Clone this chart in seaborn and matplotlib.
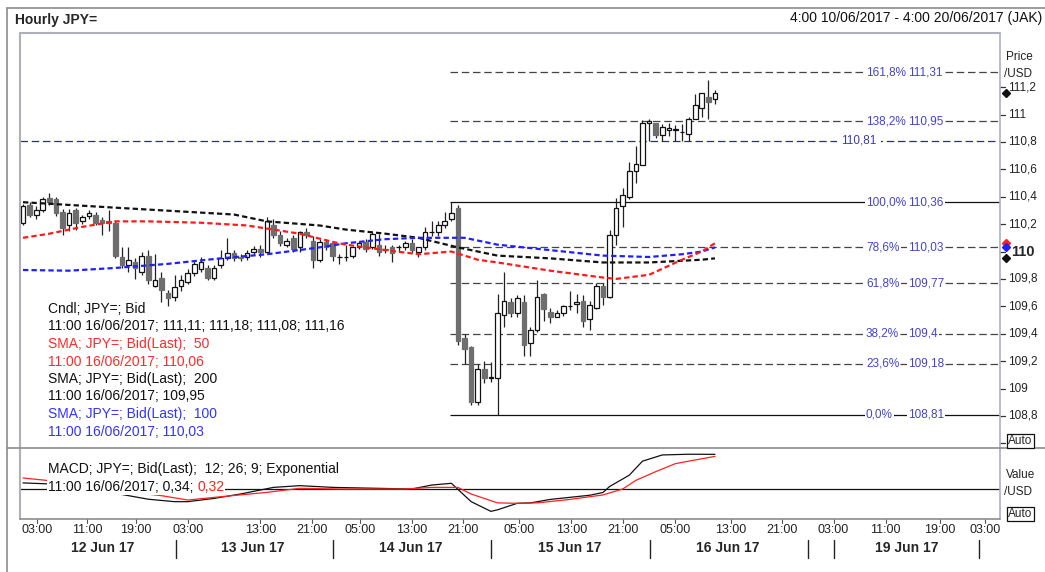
import matplotlib
matplotlib.use("Agg")
import numpy as np
import matplotlib.pyplot as plt
import matplotlib.transforms as mtransforms
from matplotlib.lines import Line2D
import seaborn as sns

# ---------------------------------------------------------------------------
# Data (one hourly candle per slot, 12 Jun -> 16 Jun 11:00)
# ---------------------------------------------------------------------------
opens = [110.21, 110.34, 110.27, 110.30, 110.39, 110.38, 110.29, 110.19, 110.30, 110.22,
         110.26, 110.27, 110.23, 110.22, 110.21, 109.96, 109.90, 109.92, 109.85, 109.97,
         109.75, 109.81, 109.70, 109.67, 109.75, 109.78, 109.84, 109.87, 109.88, 109.81,
         109.90, 109.95, 109.99, 109.96, 109.96, 110.00, 110.02, 110.00, 110.19, 110.12,
         110.05, 110.10, 110.03, 110.14, 110.08, 109.94, 110.07, 110.06, 109.96, 109.96,
         109.97, 110.03, 110.07, 110.03, 110.05, 110.02, 110.03, 110.03, 110.03, 110.06,
         110.00, 110.03, 110.14, 110.14, 110.19, 110.24, 110.32, 109.37, 109.30, 108.90,
         109.14, 109.08, 109.08, 109.54, 109.63, 109.55, 109.63, 109.33, 109.43, 109.69,
         109.56, 109.52, 109.55, 109.60, 109.62, 109.64, 109.51, 109.59, 109.75, 109.67,
         110.12, 110.33, 110.40, 110.59, 110.63, 110.94, 110.94, 110.85, 110.89, 110.89,
         110.87, 110.86, 110.97, 111.05, 111.13, 111.11]
closes = [110.33, 110.27, 110.30, 110.38, 110.36, 110.28, 110.17, 110.28, 110.21, 110.25,
          110.28, 110.21, 110.21, 110.21, 109.97, 109.90, 109.94, 109.88, 109.97, 109.79,
          109.79, 109.72, 109.66, 109.74, 109.79, 109.84, 109.91, 109.92, 109.81, 109.88,
          109.95, 109.99, 109.95, 109.95, 109.99, 110.02, 110.00, 110.22, 110.12, 110.06,
          110.08, 110.02, 110.14, 110.12, 109.94, 110.07, 110.03, 109.97, 109.96, 109.96,
          110.03, 110.06, 110.02, 110.13, 110.00, 110.01, 109.99, 110.03, 110.06, 110.01,
          110.03, 110.14, 110.14, 110.19, 110.22, 110.28, 109.35, 109.29, 108.90, 109.14,
          109.08, 109.08, 109.55, 109.64, 109.55, 109.66, 109.32, 109.43, 109.67, 109.58,
          109.52, 109.55, 109.60, 109.60, 109.63, 109.49, 109.61, 109.75, 109.67, 110.12,
          110.32, 110.41, 110.59, 110.64, 110.94, 110.95, 110.85, 110.91, 110.90, 110.89,
          110.87, 110.97, 111.07, 111.16, 111.09, 111.16]
highs = [110.35, 110.36, 110.33, 110.40, 110.43, 110.40, 110.31, 110.31, 110.32, 110.27,
         110.30, 110.29, 110.25, 110.30, 110.23, 110.03, 110.03, 109.95, 110.00, 110.01,
         109.98, 109.85, 109.72, 109.83, 109.83, 109.87, 109.93, 109.96, 109.90, 109.90,
         110.01, 110.10, 110.01, 109.98, 110.01, 110.04, 110.05, 110.25, 110.24, 110.15,
         110.10, 110.12, 110.15, 110.17, 110.11, 110.09, 110.09, 110.08, 109.98, 110.05,
         110.03, 110.08, 110.09, 110.14, 110.13, 110.05, 110.05, 110.05, 110.08, 110.09,
         110.03, 110.18, 110.22, 110.22, 110.29, 110.36, 110.34, 109.40, 109.31, 109.18,
         109.20, 109.19, 109.69, 109.85, 109.66, 109.68, 109.68, 109.45, 109.79, 109.70,
         109.59, 109.57, 109.61, 109.71, 109.69, 109.68, 109.64, 109.77, 109.77, 110.16,
         110.39, 110.46, 110.65, 110.77, 110.96, 110.97, 110.94, 110.93, 110.94, 110.92,
         110.93, 110.98, 111.15, 111.16, 111.25, 111.18]
lows = [110.19, 110.25, 110.24, 110.29, 110.34, 110.26, 110.12, 110.15, 110.16, 110.20,
        110.24, 110.19, 110.12, 110.15, 109.95, 109.88, 109.85, 109.80, 109.83, 109.76,
        109.74, 109.63, 109.60, 109.64, 109.71, 109.76, 109.82, 109.85, 109.79, 109.79,
        109.88, 109.94, 109.93, 109.93, 109.94, 109.98, 109.96, 109.99, 110.10, 110.04,
        110.03, 110.00, 110.00, 110.10, 109.88, 109.92, 110.01, 109.93, 109.91, 109.93,
        109.95, 110.02, 110.00, 110.02, 109.97, 109.99, 109.92, 110.00, 110.01, 109.99,
        109.96, 110.01, 110.11, 110.11, 110.17, 110.22, 109.32, 109.18, 108.88, 108.88,
        109.04, 109.05, 108.81, 109.45, 109.52, 109.52, 109.24, 109.24, 109.41, 109.49,
        109.48, 109.52, 109.53, 109.57, 109.55, 109.45, 109.43, 109.58, 109.61, 109.66,
        110.05, 110.18, 110.38, 110.50, 110.63, 110.81, 110.83, 110.81, 110.84, 110.81,
        110.81, 110.81, 110.97, 110.98, 110.97, 111.08]

# moving averages (slot, value)
sma50_slot = [0, 4, 9, 14, 19, 27, 34, 42, 47, 49, 55, 60, 65, 69, 72, 80, 88, 90, 95, 100, 103, 105]
sma50_val = [110.10, 110.13, 110.18, 110.22, 110.22, 110.21, 110.19, 110.13, 110.07, 110.05, 110.01,
             109.98, 110.00, 109.94, 109.92, 109.86, 109.81, 109.80, 109.83, 109.94, 110.00, 110.06]
sma200_slot = [0, 14, 32, 37, 45, 49, 55, 60, 66, 72, 80, 88, 95, 103, 105]
sma200_val = [110.36, 110.32, 110.27, 110.22, 110.19, 110.16, 110.13, 110.10, 110.03, 109.97,
              109.95, 109.92, 109.92, 109.94, 109.95]
sma100_slot = [0, 7, 14, 22, 30, 37, 45, 49, 55, 60, 65, 67, 69, 72, 80, 88, 95, 100, 103, 105]
sma100_val = [109.865, 109.86, 109.88, 109.91, 109.95, 109.98, 110.03, 110.06, 110.09, 110.10,
              110.10, 110.10, 110.08, 110.05, 110.01, 109.97, 109.96, 109.98, 110.00, 110.03]

# MACD panel
macd_slot = [0, 4, 8, 12, 16, 19, 23, 25, 29, 33, 38, 42, 47, 59, 62, 65, 68, 71, 72, 75, 77,
             80, 86, 88, 89, 92, 94, 97, 101, 105]
macd_val = [0.06, 0.05, 0.02, -0.02, -0.065, -0.10, -0.124, -0.124, -0.092, -0.049, 0.016, 0.033,
            0.016, 0.0, 0.039, 0.056, -0.124, -0.219, -0.204, -0.14, -0.136, -0.102, -0.061,
            -0.034, 0.024, 0.136, 0.273, 0.334, 0.341, 0.34]
signal_slot = [0, 4, 8, 12, 21, 25, 29, 37, 42, 48, 58, 62, 66, 68, 72, 75, 78, 83, 88, 91,
               93, 96, 99, 101, 105]
signal_val = [0.108, 0.082, 0.04, 0.0, -0.065, -0.108, -0.082, -0.033, 0.007, 0.0, 0.0, 0.016,
              0.016, -0.049, -0.136, -0.14, -0.136, -0.102, -0.058, 0.0, 0.085, 0.17, 0.249,
              0.273, 0.32]

# Fibonacci retracement and the horizontal level
fib_pct = [161.8, 138.2, 100.0, 78.6, 61.8, 38.2, 23.6, 0.0]
fib_level = [111.31, 110.95, 110.36, 110.03, 109.77, 109.4, 109.18, 108.81]
fib_start = 64.8
hline_level = 110.81

price_ticks = [108.6, 108.8, 109.0, 109.2, 109.4, 109.6, 109.8, 110.0, 110.2, 110.4, 110.6,
               110.8, 111.0, 111.2]
last_marks = [(111.16, "#111111"), (110.06, "#ff2020"), (110.03, "#2020ff"), (109.95, "#111111")]

time_labels = ["03:00", "11:00", "19:00", "03:00", "13:00", "21:00", "05:00", "13:00", "21:00",
               "05:00", "13:00", "21:00", "05:00", "13:00", "21:00", "03:00", "11:00", "19:00",
               "03:00"]
time_pos = [2.1, 9.7, 17.1, 25.0, 36.0, 43.9, 51.1, 59.0, 66.8, 75.3, 83.2, 91.1, 99.0, 107.4,
            115.1, 123.0, 130.9, 139.1, 146.0]
day_labels = ["12 Jun 17", "13 Jun 17", "14 Jun 17", "15 Jun 17", "16 Jun 17", "19 Jun 17"]
day_pos = [12.1, 34.9, 58.9, 82.9, 106.9, 134.1]
day_sep = [23.2, 47.0, 71.0, 95.1, 119.1, 123.1, 145.1]

legend_lines = [
    ("Cndl; JPY=; Bid", "#111111"),
    ("11:00 16/06/2017; 111,11; 111,18; 111,08; 111,16", "#111111"),
    ("SMA; JPY=; Bid(Last);  50", "#ff2a2a"),
    ("11:00 16/06/2017; 110,06", "#ff2a2a"),
    ("SMA; JPY=; Bid(Last);  200", "#111111"),
    ("11:00 16/06/2017; 109,95", "#111111"),
    ("SMA; JPY=; Bid(Last);  100", "#3333ff"),
    ("11:00 16/06/2017; 110,03", "#3333ff"),
]

# ---------------------------------------------------------------------------
# Figure layout (pixel helpers)
# ---------------------------------------------------------------------------
W, H = 1045, 572


def fx(px):
    return px / W


def fy(py):
    return 1 - py / H


def comma(v):
    return f"{v:g}".replace(".", ",")


sns.set_style("white")
plt.rcParams["font.family"] = ["Liberation Sans", "DejaVu Sans"]

fig = plt.figure(figsize=(W / 100, H / 100), dpi=100)
ax = fig.add_axes([fx(20), fy(447), fx(1000) - fx(20), fy(33) - fy(447)])
axm = fig.add_axes([fx(20), fy(519), fx(1000) - fx(20), fy(447) - fy(519)])
XLIM = (-0.46, 148.25)
blend = mtransforms.blended_transform_factory

# ---- Candles --------------------------------------------------------------
slots = np.arange(len(opens))
o, h, l, c = (np.array(a) for a in (opens, highs, lows, closes))
up = c >= o
body = np.maximum(np.abs(c - o), 0.003)
ax.vlines(slots, l, h, color="#222222", lw=0.9, zorder=3)
ax.bar(slots[up], body[up], bottom=o[up], width=0.7, color="white",
       edgecolor="#111111", lw=0.9, zorder=4)
ax.bar(slots[~up], body[~up], bottom=c[~up], width=0.7, color="#6e6e6e",
       edgecolor="#6e6e6e", lw=0.9, zorder=4)

# ---- Fibonacci levels -----------------------------------------------------
ty = blend(fig.transFigure, ax.transData)
fib_col = "#4444cc"
for pct, lvl in zip(fib_pct, fib_level):
    solid = pct in (0.0, 100.0)
    ax.hlines(lvl, fib_start, XLIM[1], color="#111111" if solid else "#444444", lw=0.9,
              linestyles="-" if solid else (0, (6, 3)), zorder=1)
    ax.text(fx(866), lvl, f"{pct:.1f}%".replace(".", ","), transform=ty, fontsize=8.5,
            color=fib_col, va="center", ha="left", zorder=6,
            bbox=dict(boxstyle="square,pad=0.1", fc="white", ec="none"))
    ax.text(fx(908), lvl, comma(lvl), transform=ty, fontsize=8.5, color=fib_col,
            va="center", ha="left", zorder=6,
            bbox=dict(boxstyle="square,pad=0.1", fc="white", ec="none"))

ax.axhline(hline_level, color="#2b2b96", lw=0.9, ls=(0, (6, 3)), zorder=1)
ax.text(fx(841), hline_level, comma(hline_level), transform=ty, fontsize=8.5, color="#3a3ab0",
        va="center", ha="left", zorder=6,
        bbox=dict(boxstyle="square,pad=0.35", fc="white", ec="none"))

# ---- Moving averages ------------------------------------------------------
ma_dash = (0, (2.4, 1.4))
sns.lineplot(x=sma200_slot, y=sma200_val, ax=ax, color="#111111", lw=1.6, linestyle=ma_dash, zorder=5)
sns.lineplot(x=sma100_slot, y=sma100_val, ax=ax, color="#1f1fff", lw=1.6, linestyle=ma_dash, zorder=5)
sns.lineplot(x=sma50_slot, y=sma50_val, ax=ax, color="#ff1a1a", lw=1.6, linestyle=ma_dash, zorder=5)

# ---- MACD -----------------------------------------------------------------
axm.axhline(0, color="#111111", lw=0.9, zorder=2)
sns.lineplot(x=macd_slot, y=macd_val, ax=axm, color="#111111", lw=0.9, zorder=3)
sns.lineplot(x=signal_slot, y=signal_val, ax=axm, color="#ff2020", lw=0.9, zorder=3)

for a in (ax, axm):
    a.set_xlim(*XLIM)
    a.set_xticks([])
    a.set_yticks([])
    a.set_xlabel("")
    a.set_ylabel("")
    for s in a.spines.values():
        s.set_visible(False)
ax.set_ylim(108.573, 111.595)
axm.set_ylim(-0.294, 0.412)

# ---- Legends --------------------------------------------------------------
for k, (txt, col) in enumerate(legend_lines):
    fig.text(fx(48), fy(309 + 17.5 * k), txt, color=col, fontsize=10, va="center", ha="left")

fig.text(fx(48), fy(469), "MACD; JPY=; Bid(Last);  12; 26; 9; Exponential", fontsize=10,
         va="center", ha="left", color="#111111")
t1 = fig.text(fx(48), fy(487), "11:00 16/06/2017; 0,34; ", fontsize=10, va="center", ha="left",
              color="#111111", zorder=10,
              bbox=dict(boxstyle="square,pad=0.05", fc="white", ec="none"))
axm.annotate("0,32", xy=(1, 0.5), xycoords=t1, va="center", ha="left", fontsize=10,
             color="#ff2020", zorder=10, annotation_clip=False,
             bbox=dict(boxstyle="square,pad=0.05", fc="white", ec="none"))

# ---- Right price axis -----------------------------------------------------
for v in price_ticks:
    ax.plot([fx(1000), fx(1005)], [v, v], transform=ty, clip_on=False, color="#333333", lw=0.9)
    if v == 108.6:
        continue
    if v == 110.0:
        ax.text(fx(1011), v, comma(v), transform=ty, fontsize=10.5, weight="bold",
                va="center", ha="left", clip_on=False)
    else:
        ax.text(fx(1008), v, comma(v), transform=ty, fontsize=8.5, va="center", ha="left",
                clip_on=False, color="#222222")
for v, col in last_marks:
    ax.plot([fx(1005.5)], [v], marker="D", ms=4.2, color=col, transform=ty, clip_on=False,
            zorder=12)

fig.text(fx(1006), fy(57), "Price", fontsize=8.5, va="center", ha="left", color="#222222")
fig.text(fx(1004), fy(74), "/USD", fontsize=8.5, va="center", ha="left", color="#222222")
fig.text(fx(1006), fy(475), "Value", fontsize=8.5, va="center", ha="left", color="#222222")
fig.text(fx(1004), fy(492), "/USD", fontsize=8.5, va="center", ha="left", color="#222222")
for ypix in (441, 514):
    fig.text(fx(1020.5), fy(ypix), "Auto", fontsize=8.5, va="center", ha="center",
             bbox=dict(boxstyle="square,pad=0.12", fc="white", ec="#111111", lw=0.9))

# ---- Time axis ------------------------------------------------------------
tx = blend(axm.transData, fig.transFigure)
for lab, p in zip(time_labels, time_pos):
    axm.text(p, fy(530), lab, transform=tx, fontsize=9, ha="center", va="center",
             color="#222222", clip_on=False)
    axm.plot([p, p], [fy(519), fy(523)], transform=tx, clip_on=False, color="#555555", lw=0.8)
for lab, p in zip(day_labels, day_pos):
    axm.text(p, fy(548), lab, transform=tx, fontsize=10, weight="bold", ha="center",
             va="center", clip_on=False)
for p in day_sep:
    axm.plot([p, p], [fy(540), fy(558)], transform=tx, clip_on=False, color="#222222", lw=1)

# ---- Frames & header ------------------------------------------------------
frame = "#8c8c8c"
inner = "#aeb0bd"
fig.add_artist(Line2D([fx(7), 1], [fy(7.5), fy(7.5)], color=frame, lw=1.2))
fig.add_artist(Line2D([fx(7), fx(7)], [fy(7.5), 0], color=frame, lw=1.2))
fig.add_artist(Line2D([fx(20), fx(20)], [fy(33), fy(519)], color=inner, lw=1.5))
fig.add_artist(Line2D([fx(20), fx(1000)], [fy(33), fy(33)], color=inner, lw=1.5))
fig.add_artist(Line2D([fx(1000), fx(1000)], [fy(33), fy(519)], color=inner, lw=1.2))
fig.add_artist(Line2D([fx(7), 1], [fy(447.5), fy(447.5)], color=frame, lw=1.2))
fig.add_artist(Line2D([fx(20), fx(1000)], [fy(519), fy(519)], color=frame, lw=1.2))

fig.text(fx(15), fy(20), "Hourly JPY=", fontsize=10, weight="bold", va="center", ha="left")
fig.text(fx(1042), fy(18), "4:00 10/06/2017 - 4:00 20/06/2017 (JAK)", fontsize=10,
         va="center", ha="right", color="#111111")

fig.savefig("out.png", dpi=100)
